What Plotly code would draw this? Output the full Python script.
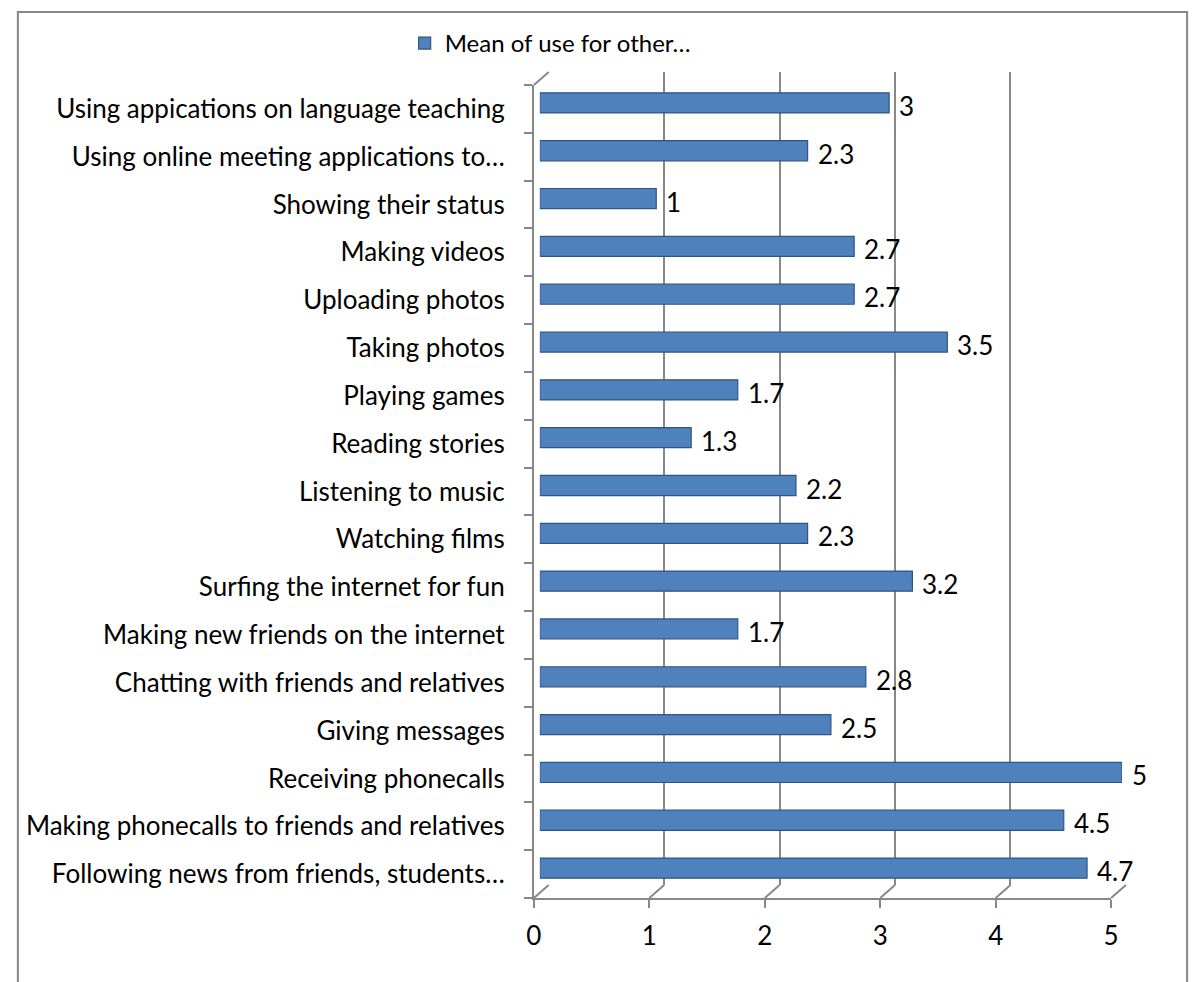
import plotly.graph_objects as go

# ---------------- data (bottom -> top, as in the source chart) ----------------
categories = [
    "Following news from friends, students\u2026",
    "Making phonecalls to friends and relatives",
    "Receiving phonecalls",
    "Giving messages",
    "Chatting with friends and relatives",
    "Making new friends on the internet",
    "Surfing the internet for fun",
    "Watching films",
    "Listening to music",
    "Reading stories",
    "Playing games",
    "Taking photos",
    "Uploading photos",
    "Making videos",
    "Showing their status",
    "Using online meeting applications to\u2026",
    "Using appications on language teaching",
]
values = [4.7, 4.5, 5, 2.5, 2.8, 1.7, 3.2, 2.3, 2.2, 1.3, 1.7, 3.5, 2.7, 2.7, 1, 2.3, 3]
x_ticks = [0, 1, 2, 3, 4, 5]
series_name = "Mean of use for other\u2026"

# ---------------- geometry helpers (pixels -> paper) ----------------
W, H = 1202, 982
def px(x):
    return x / W
def py(y):
    return 1 - y / H

FONT = "Lato, 'Liberation Sans', Arial, sans-serif"
GRID = "#888888"
FS = 26

# front (label) plane
FX0, FX1 = 533, 1118
FY_TOP, FY_BOT = 85, 898
# back wall (depth offset)
DX, DY = 15, 13
BX0, BX1 = FX0 + DX, FX1 + DX
BY_TOP, BY_BOT = FY_TOP - DY, FY_BOT - DY
# bars (mid depth)
BAR_X0, BAR_X1 = 539, 1129
BAR_DY = 6

fig = go.Figure()

# back wall grid subplot (x / y)
fig.add_trace(go.Scatter(x=values, y=[0.5] * len(values), mode="markers",
                         marker=dict(opacity=0), showlegend=False,
                         hoverinfo="skip", xaxis="x", yaxis="y"))
# front axes subplot (x2 / y2) - carries category labels and value ticks
fig.add_trace(go.Scatter(x=values, y=categories, mode="markers",
                         marker=dict(opacity=0), showlegend=False,
                         hoverinfo="skip", xaxis="x2", yaxis="y2"))
# bars (x3 / y3)
fig.add_trace(go.Bar(
    x=values, y=categories, orientation="h", name=series_name,
    marker=dict(color="#4F81BD", line=dict(color="#2F5583", width=1.2)),
    xaxis="x3", yaxis="y3", hoverinfo="x+y",
))

fig.update_layout(
    width=W, height=H, autosize=False,
    margin=dict(l=0, r=0, t=0, b=0),
    paper_bgcolor="white", plot_bgcolor="rgba(0,0,0,0)",
    font=dict(family=FONT, size=FS, color="black"),
    bargap=0.58,
    showlegend=True,
    legend=dict(orientation="h", x=px(402), y=py(21), xanchor="left", yanchor="top",
                font=dict(size=24, family=FONT), bgcolor="rgba(0,0,0,0)"),
    xaxis=dict(domain=[px(BX0), px(BX1)], range=[-0.0005, 5.0005], anchor="y",
               showgrid=True, gridcolor=GRID, gridwidth=2, zeroline=False,
               tickvals=x_ticks, showticklabels=False, ticks="", showline=False, fixedrange=True),
    yaxis=dict(domain=[py(BY_BOT), py(BY_TOP)], range=[0, 1], anchor="x",
               visible=False, fixedrange=True),
    xaxis2=dict(domain=[px(FX0), px(FX1)], range=[0, 5], anchor="y2",
                showgrid=False, zeroline=False, tickvals=x_ticks,
                ticks="outside", ticklen=8, tickwidth=2, tickcolor=GRID,
                showline=True, linecolor=GRID, linewidth=2,
                ticklabelstandoff=6, tickfont=dict(size=FS, family=FONT), fixedrange=True),
    yaxis2=dict(domain=[py(FY_BOT), py(FY_TOP)], anchor="x2", type="category",
                categoryorder="array", categoryarray=categories, range=[-0.5, 16.5],
                showgrid=False, zeroline=False, tickson="boundaries",
                ticks="outside", ticklen=8, tickwidth=2, tickcolor=GRID,
                showline=True, linecolor=GRID, linewidth=2,
                ticklabelstandoff=22, tickfont=dict(size=FS, family=FONT), fixedrange=True),
    xaxis3=dict(domain=[px(BAR_X0), px(BAR_X1)], range=[0, 5], anchor="y3",
                visible=False, fixedrange=True),
    yaxis3=dict(domain=[py(FY_BOT - BAR_DY), py(FY_TOP - BAR_DY)], anchor="x3",
                type="category", categoryorder="array", categoryarray=categories,
                range=[-0.5, 16.5], visible=False, fixedrange=True),
)

shapes = []
# outer chart border
shapes.append(dict(type="rect", xref="paper", yref="paper",
                   x0=px(10), x1=px(1195), y0=py(12), y1=py(995),
                   line=dict(color="#878787", width=2), fillcolor="rgba(0,0,0,0)", layer="below"))
# floor diagonals joining front ticks with the back wall grid lines
for t in x_ticks:
    fx = FX0 + (FX1 - FX0) * t / 5
    bx = BX0 + (BX1 - BX0) * t / 5
    shapes.append(dict(type="line", xref="paper", yref="paper",
                       x0=px(fx), y0=py(FY_BOT), x1=px(bx), y1=py(BY_BOT),
                       line=dict(color=GRID, width=2)))
# left wall top diagonal
shapes.append(dict(type="line", xref="paper", yref="paper",
                   x0=px(FX0), y0=py(FY_TOP), x1=px(BX0), y1=py(BY_TOP),
                   line=dict(color=GRID, width=2)))
fig.update_layout(shapes=shapes)

# data labels
annotations = []
for c, v in zip(categories, values):
    annotations.append(dict(x=v, y=c, xref="x3", yref="y3", text=f"{v:g}",
                            showarrow=False, xanchor="left", yanchor="middle",
                            xshift=8, yshift=-3, font=dict(size=FS, family=FONT, color="black")))
fig.update_layout(annotations=annotations)

fig.write_html("out.html", config={"displayModeBar": False},
               post_script="document.body.style.margin='0';document.body.style.overflow='hidden';")
